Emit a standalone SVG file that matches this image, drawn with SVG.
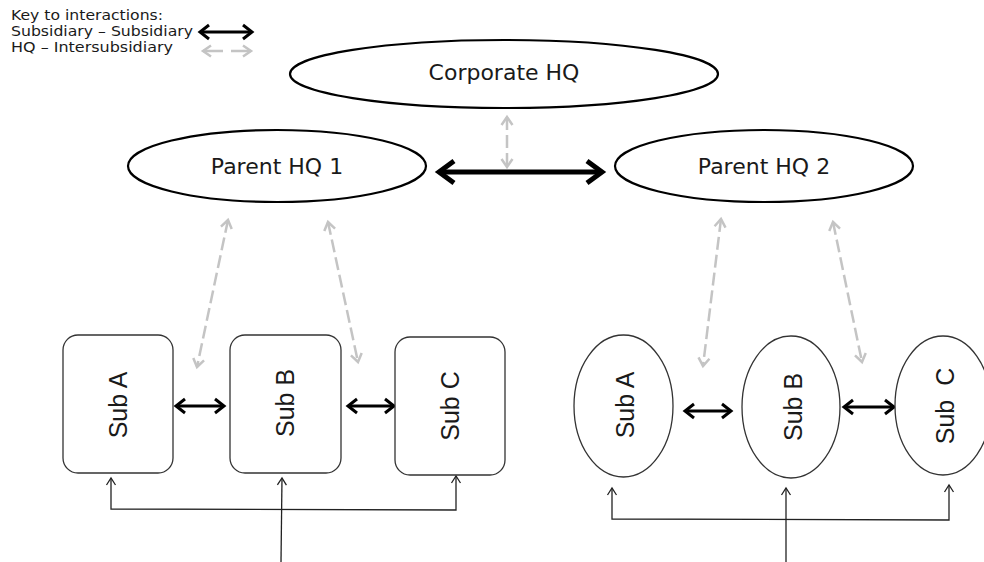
<svg xmlns="http://www.w3.org/2000/svg" width="984" height="562" viewBox="0 0 984 562">
  <style>
    .bg { fill: #ffffff; }
    .hq { fill: #ffffff; stroke: #000000; stroke-width: 2.2; }
    .sub { fill: #ffffff; stroke: #333333; stroke-width: 1.3; }
    .lbl { font-family: "DejaVu Sans", Verdana, sans-serif; fill: #1a1a1a; }
    .hqtxt { font-size: 22px; text-anchor: middle; }
    .subtxt { font-family: "Liberation Sans", Arial, sans-serif; font-size: 25px; fill: #1a1a1a; text-anchor: middle; }
    .key { font-size: 14.5px; }
    .thick { fill: none; stroke: #000000; stroke-width: 5; }
    .mid { fill: none; stroke: #000000; stroke-width: 3; }
    .grey { fill: none; stroke: #c4c4c4; stroke-width: 2.5; stroke-dasharray: 13 5; }
    .thin { fill: none; stroke: #222222; stroke-width: 1.3; }
  </style>
  <defs>
    <marker id="mThick" markerUnits="userSpaceOnUse" orient="auto-start-reverse" overflow="visible" refX="0" refY="0" markerWidth="1" markerHeight="1">
      <path d="M -15 -11 L 0 0 L -15 11" fill="none" stroke="#000000" stroke-width="5"/>
    </marker>
    <marker id="mMid" markerUnits="userSpaceOnUse" orient="auto-start-reverse" overflow="visible" refX="0" refY="0" markerWidth="1" markerHeight="1">
      <path d="M -9 -7 L 0 0 L -9 7" fill="none" stroke="#000000" stroke-width="3"/>
    </marker>
    <marker id="mGrey" markerUnits="userSpaceOnUse" orient="auto-start-reverse" overflow="visible" refX="0" refY="0" markerWidth="1" markerHeight="1">
      <path d="M -8 -5.5 L 0 0 L -8 5.5" fill="none" stroke="#c4c4c4" stroke-width="2.5"/>
    </marker>
    <marker id="mThin" markerUnits="userSpaceOnUse" orient="auto-start-reverse" overflow="visible" refX="0" refY="0" markerWidth="1" markerHeight="1">
      <path d="M -7 -4.5 L 0 0 L -7 4.5" fill="none" stroke="#222222" stroke-width="1.3"/>
    </marker>
  </defs>

  <rect class="bg" x="0" y="0" width="984" height="562"/>

  <!-- key -->
  <g id="key">
    <text class="lbl key" x="11" y="20" textLength="152" lengthAdjust="spacingAndGlyphs">Key to interactions:</text>
    <text class="lbl key" x="11" y="36" textLength="182" lengthAdjust="spacingAndGlyphs">Subsidiary – Subsidiary</text>
    <text class="lbl key" x="11" y="52" textLength="162" lengthAdjust="spacingAndGlyphs">HQ – Intersubsidiary</text>
    <line x1="200" y1="32" x2="252" y2="32" stroke="#000000" stroke-width="3" marker-start="url(#mMid)" marker-end="url(#mMid)"/>
    <line x1="203" y1="51" x2="251" y2="51" stroke="#c4c4c4" stroke-width="2.5" stroke-dasharray="20 8" marker-start="url(#mGrey)" marker-end="url(#mGrey)"/>
  </g>

  <!-- connectors -->
  <g id="connectors">
    <!-- parent HQ to parent HQ -->
    <line class="thick" x1="439" y1="172" x2="602" y2="172" marker-start="url(#mThick)" marker-end="url(#mThick)"/>
    <!-- corporate HQ link -->
    <line class="grey" x1="507" y1="117" x2="507" y2="167" marker-start="url(#mGrey)" marker-end="url(#mGrey)"/>
    <!-- parent HQ 1 to its subsidiaries -->
    <line class="grey" x1="228" y1="220" x2="197" y2="367" marker-start="url(#mGrey)" marker-end="url(#mGrey)"/>
    <line class="grey" x1="328" y1="222" x2="358" y2="362" marker-start="url(#mGrey)" marker-end="url(#mGrey)"/>
    <!-- parent HQ 2 to its subsidiaries -->
    <line class="grey" x1="721" y1="219" x2="703" y2="366" marker-start="url(#mGrey)" marker-end="url(#mGrey)"/>
    <line class="grey" x1="833" y1="222" x2="862" y2="362" marker-start="url(#mGrey)" marker-end="url(#mGrey)"/>
    <!-- subsidiary to subsidiary -->
    <line class="mid" x1="176" y1="406" x2="224" y2="406" marker-start="url(#mMid)" marker-end="url(#mMid)"/>
    <line class="mid" x1="348" y1="406" x2="394" y2="406" marker-start="url(#mMid)" marker-end="url(#mMid)"/>
    <line class="mid" x1="685" y1="411" x2="731" y2="411" marker-start="url(#mMid)" marker-end="url(#mMid)"/>
    <line class="mid" x1="844" y1="407" x2="894" y2="407" marker-start="url(#mMid)" marker-end="url(#mMid)"/>
    <!-- shared input, left group -->
    <polyline class="thin" points="111,478 111,509 456,510 456,476" marker-start="url(#mThin)" marker-end="url(#mThin)"/>
    <line class="thin" x1="281" y1="562" x2="282" y2="478" marker-end="url(#mThin)"/>
    <!-- shared input, right group -->
    <polyline class="thin" points="612,488 612,519 949,520 949,485" marker-start="url(#mThin)" marker-end="url(#mThin)"/>
    <line class="thin" x1="786" y1="562" x2="786" y2="488" marker-end="url(#mThin)"/>
  </g>

  <!-- headquarters -->
  <g id="corporate-hq">
    <ellipse class="hq" cx="504" cy="74" rx="214" ry="34"/>
    <text class="lbl hqtxt" x="504" y="80">Corporate HQ</text>
  </g>
  <g id="parent-hq-1">
    <ellipse class="hq" cx="277" cy="166" rx="149" ry="36"/>
    <text class="lbl hqtxt" x="277" y="174">Parent HQ 1</text>
  </g>
  <g id="parent-hq-2">
    <ellipse class="hq" cx="764" cy="166" rx="149" ry="36"/>
    <text class="lbl hqtxt" x="764" y="174">Parent HQ 2</text>
  </g>

  <!-- subsidiaries of parent HQ 1 -->
  <g id="sub-a-1">
    <rect class="sub" x="63" y="335" width="110" height="138" rx="15"/>
    <text class="subtxt" transform="translate(127,405) rotate(-90)">Sub A</text>
  </g>
  <g id="sub-b-1">
    <rect class="sub" x="230" y="335" width="111" height="138" rx="15"/>
    <text class="subtxt" transform="translate(294,403) rotate(-90)">Sub B</text>
  </g>
  <g id="sub-c-1">
    <rect class="sub" x="395" y="337" width="110" height="138" rx="15"/>
    <text class="subtxt" transform="translate(459,406) rotate(-90)">Sub C</text>
  </g>

  <!-- subsidiaries of parent HQ 2 -->
  <g id="sub-a-2">
    <ellipse class="sub" cx="623.5" cy="406" rx="49.5" ry="71"/>
    <text class="subtxt" transform="translate(634,405) rotate(-90)">Sub A</text>
  </g>
  <g id="sub-b-2">
    <ellipse class="sub" cx="791" cy="407" rx="49" ry="71"/>
    <text class="subtxt" transform="translate(802,407) rotate(-90)">Sub B</text>
  </g>
  <g id="sub-c-2">
    <ellipse class="sub" cx="943" cy="405.5" rx="48" ry="69.5"/>
    <text class="subtxt" transform="translate(954,406) rotate(-90)" xml:space="preserve">Sub  C</text>
  </g>
</svg>
